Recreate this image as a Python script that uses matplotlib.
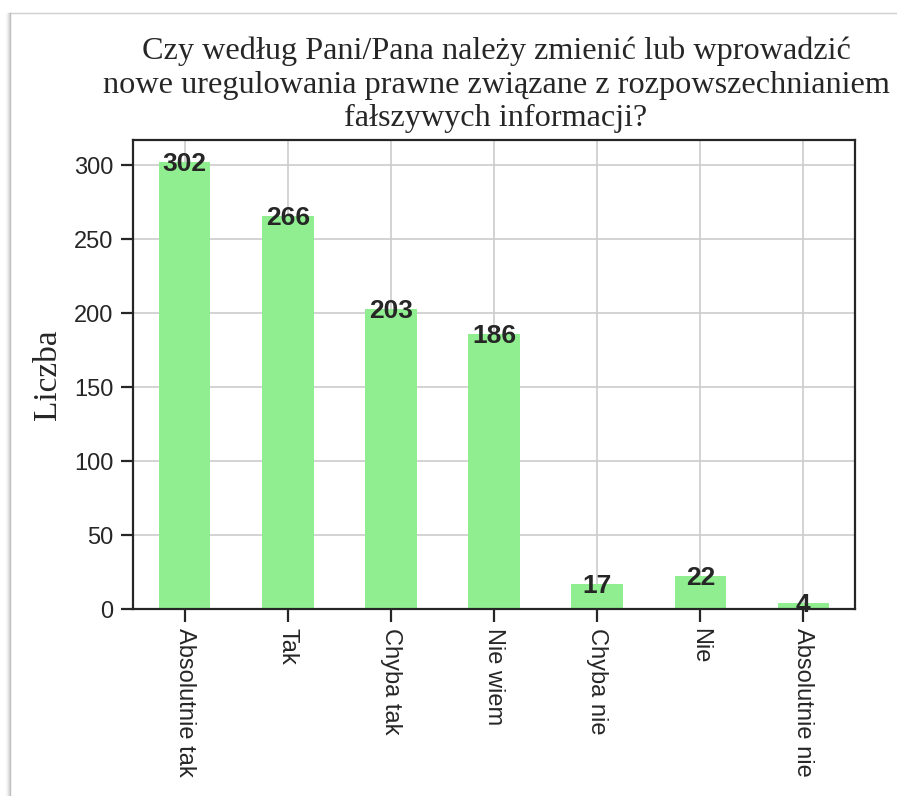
import numpy as np
import matplotlib
matplotlib.use("Agg")
import matplotlib.pyplot as plt
from matplotlib.lines import Line2D

categories = ["Absolutnie tak", "Tak", "Chyba tak", "Nie wiem", "Chyba nie", "Nie", "Absolutnie nie"]
counts = [302, 266, 203, 186, 17, 22, 4]
title = ("Czy według Pani/Pana należy zmienić lub wprowadzić\n"
         "nowe uregulowania prawne związane z rozpowszechnianiem\n"
         "fałszywych informacji?")

plt.rcParams['font.family'] = ['Liberation Sans', 'DejaVu Sans']

fig = plt.figure(figsize=(8.97, 7.96), dpi=100)
ax = fig.add_axes([133/897, 1 - 609/796, (855-133)/897, (609-140)/796])

x = np.arange(len(categories))
ax.bar(x, counts, width=0.5, color='lightgreen', zorder=2)
ax.set_xlim(-0.5, len(categories) - 0.5)
ax.set_ylim(0, max(counts) * 1.05)

ax.grid(True, color='#cccccc', linewidth=1.2, zorder=0)
ax.set_axisbelow(True)
for s in ax.spines.values():
    s.set_color('#262626')
    s.set_linewidth(1.6)

ax.set_xticks(x)
ax.set_xticklabels(categories, rotation=270, fontsize=17, color='#262626')
ax.set_yticks([0, 50, 100, 150, 200, 250, 300])
ax.tick_params(axis='y', labelsize=17, labelcolor='#262626')
ax.tick_params(length=9, width=1.6, color='#262626', pad=5)

for xi, v in zip(x, counts):
    ax.annotate(str(v), (xi, v), xytext=(0, -2), textcoords='offset pixels',
                ha='center', va='center', fontsize=19, fontweight='bold', color='#262626')

ax.set_ylabel("Liczba", family='Liberation Serif', fontsize=24, color='#262626', labelpad=8)
fig.text(496/897, 1 - 37/796, title, family='Liberation Serif', fontsize=23.2,
         color='#262626', ha='center', va='top', linespacing=1.2)

# screenshot frame with soft shadow on the left
fig.add_artist(Line2D([10/897, 1], [1 - 13/796, 1 - 13/796], transform=fig.transFigure,
                      color='#cfcfcf', linewidth=1))
for i, a in enumerate([0.9, 0.5, 0.3, 0.15, 0.07]):
    fig.add_artist(Line2D([(10 - i)/897, (10 - i)/897], [0, 1 - 13/796], transform=fig.transFigure,
                          color='#bbbbbb', alpha=a, linewidth=1))

fig.savefig("out.png", dpi=100)
